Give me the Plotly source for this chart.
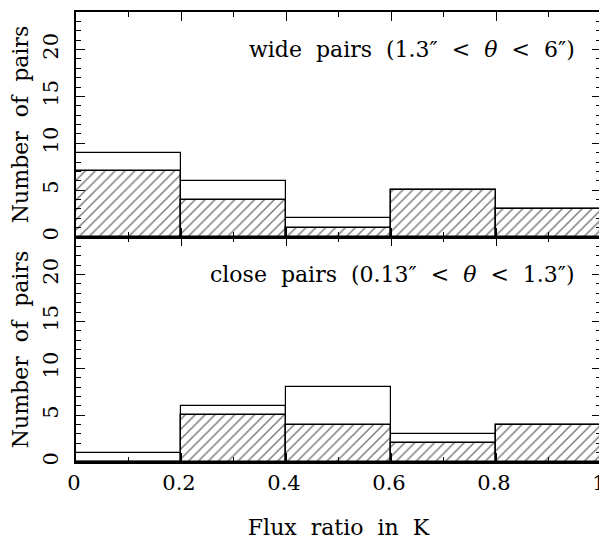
import plotly.graph_objects as go

bin_left = [0.0, 0.2, 0.4, 0.6, 0.8]
bin_width = 0.2
wide_total = [9, 6, 2, 5, 3]
wide_hatched = [7, 4, 1, 5, 3]
close_total = [1, 6, 8, 3, 4]
close_hatched = [0, 5, 4, 2, 4]
x_ticks = [0, 0.2, 0.4, 0.6, 0.8, 1]
x_ticklabels = ["0", "0.2", "0.4", "0.6", "0.8", "1"]
y_ticks = [0, 5, 10, 15, 20]

FONT = "DejaVu Serif"
SP = "\u2007"  # wide word gap, like the original typesetting
centers = [b + bin_width / 2 for b in bin_left]

fig = go.Figure()

def add_panel(total, hatched, xaxis, yaxis):
    fig.add_trace(go.Bar(x=centers, y=total, width=[bin_width] * len(centers),
                         marker=dict(color="white", line=dict(color="black", width=1.2)),
                         xaxis=xaxis, yaxis=yaxis, showlegend=False))
    fig.add_trace(go.Bar(x=centers, y=hatched, width=[bin_width] * len(centers),
                         marker=dict(color="white",
                                     line=dict(color="black", width=1.5),
                                     pattern=dict(shape="/", fgcolor="black", bgcolor="white",
                                                  size=7, solidity=0.22)),
                         xaxis=xaxis, yaxis=yaxis, showlegend=False))

add_panel(close_total, close_hatched, "x", "y")
add_panel(wide_total, wide_hatched, "x2", "y2")

common_x = dict(range=[0, 1], tickvals=x_ticks, ticks="inside", ticklen=9, tickwidth=1,
                tickcolor="black", mirror="allticks", showline=True, linecolor="black",
                linewidth=1.5, showgrid=False, zeroline=False, automargin=False,
                ticklabeloverflow="allow", ticklabelstandoff=1, ticklabelshift=-2,
                minor=dict(dtick=0.1, tick0=0, ticks="inside", ticklen=5, tickcolor="black"),
                tickfont=dict(family=FONT, size=21, color="black"))
common_y = dict(range=[0, 24], tickvals=y_ticks, ticks="inside", ticklen=9, tickwidth=1,
                tickcolor="black", mirror="allticks", showline=True, linecolor="black",
                linewidth=1.5, showgrid=False, zeroline=False, tickangle=-90,
                automargin=False, ticklabeloverflow="allow", ticklabelstandoff=8,
                minor=dict(dtick=1, tick0=0, ticks="inside", ticklen=5, tickcolor="black"),
                tickfont=dict(family=FONT, size=21, color="black"),
                title=dict(text=SP.join(["Number", "of", "pairs"]), standoff=12,
                           font=dict(family=FONT, size=22, color="black")))

fig.update_layout(
    width=599, height=532,
    margin=dict(l=68, r=6, t=4, b=78),
    paper_bgcolor="white", plot_bgcolor="white",
    barmode="overlay", bargap=0,
    font=dict(family=FONT, color="black"),
    xaxis=dict(common_x, domain=[0, 1], anchor="y", ticktext=x_ticklabels,
               title=dict(text=SP.join(["Flux", "ratio", "in", "K"]), standoff=40,
                          font=dict(family=FONT, size=22, color="black"))),
    yaxis=dict(common_y, domain=[0, 0.5], anchor="x"),
    xaxis2=dict(common_x, domain=[0, 1], anchor="y2", showticklabels=False),
    yaxis2=dict(common_y, domain=[0.5, 1], anchor="x2"),
    annotations=[
        dict(text=SP.join(["wide", "pairs", "(1.3″", "<", "<i>θ</i>", "<", "6″)"]),
             xref="paper", yref="y2",
             x=0.955, y=20, xanchor="right", yanchor="middle", showarrow=False,
             font=dict(family=FONT, size=22, color="black")),
        dict(text=SP.join(["close", "pairs", "(0.13″", "<", "<i>θ</i>", "<", "1.3″)"]),
             xref="paper", yref="y",
             x=0.955, y=20, xanchor="right", yanchor="middle", showarrow=False,
             font=dict(family=FONT, size=22, color="black")),
    ],
)

fig.write_html("out.html")
